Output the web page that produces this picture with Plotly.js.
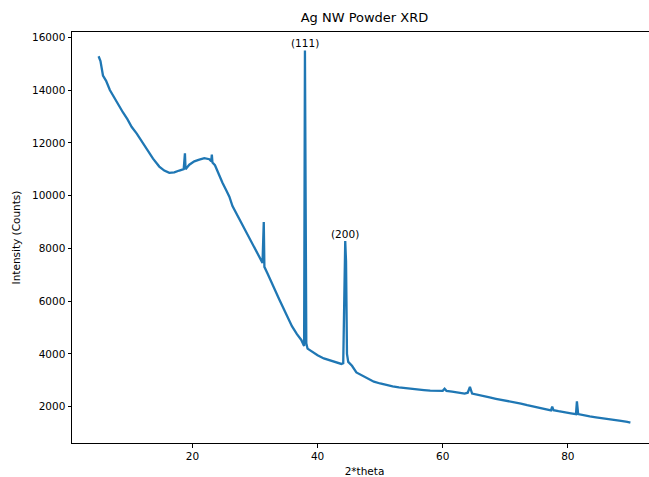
<!DOCTYPE html>
<html>
<head>
<meta charset="utf-8">
<script src="https://cdn.plot.ly/plotly-3.0.1.min.js"></script>
<style>
html, body { margin: 0; padding: 0; overflow: hidden; background: #fff; }
#chart { width: 659px; height: 477px; }
</style>
</head>
<body>
<div id="chart"></div>
<script>
// 2*theta positions (degrees)
const twoTheta = [
  5.0, 5.3, 5.7, 6.2, 6.8, 7.5, 8.2, 8.9, 9.6, 10.3, 11.1, 11.9, 12.8, 13.7, 14.7,
  15.5, 16.3, 17.1, 17.9, 18.6, 18.8, 18.9, 19.5, 20.3, 21.1, 21.9, 22.7, 23.0, 23.1,
  23.2, 23.6, 24.2, 24.8, 25.4, 25.9, 26.4, 27.5, 28.6, 29.6, 30.5, 31.2, 31.4, 31.5,
  32.0, 32.9, 33.9, 34.9, 35.9, 36.7, 37.4, 37.75, 37.85, 37.98, 38.1, 38.2, 38.4,
  38.7, 39.3, 40.0, 41.0, 42.0, 43.0, 43.8, 44.1, 44.3, 44.42, 44.55, 44.7, 44.9,
  45.5, 46.2, 47.0, 48.0, 49.0, 50.0, 51.0, 52.0, 53.0, 54.0, 55.0, 56.0, 57.0, 58.0,
  59.0, 60.0, 60.3, 60.6, 61.5, 62.5, 63.5, 64.0, 64.35, 64.7, 65.5, 66.5, 67.5, 68.5,
  69.5, 70.5, 71.5, 72.5, 73.5, 74.5, 75.5, 76.5, 77.3, 77.5, 77.7, 78.5, 79.5, 80.5,
  81.3, 81.45, 81.65, 82.5, 83.5, 84.5, 85.5, 86.5, 87.5, 88.5, 89.5, 90.0
];
// Intensity (counts)
const intensity = [
  15280, 15100, 14550, 14350, 14000, 13700, 13450, 13150, 12900, 12600, 12350, 12050, 11740, 11400, 11100,
  10950, 10860, 10880, 10950, 11000, 11600, 11000, 11170, 11300, 11360, 11420, 11380, 11300, 11550,
  11250, 11150, 10800, 10490, 10200, 9960, 9600, 9100, 8600, 8150, 7750, 7450, 9000, 7300,
  7050, 6550, 6050, 5550, 5050, 4750, 4530, 4350, 4300, 15500, 11050, 4400, 4200,
  4150, 4050, 3950, 3830, 3750, 3680, 3620, 3650, 7000, 8280, 7500, 4000, 3700,
  3550, 3300, 3200, 3050, 2950, 2880, 2820, 2770, 2730, 2700, 2680, 2650, 2630, 2610,
  2600, 2600, 2680, 2600, 2570, 2540, 2500, 2530, 2750, 2500, 2450, 2400, 2350, 2300,
  2260, 2220, 2170, 2120, 2060, 2000, 1950, 1900, 1860, 2000, 1870, 1830, 1780, 1750,
  1720, 2200, 1720, 1670, 1630, 1600, 1560, 1530, 1490, 1460, 1430, 1400
];
// Tick labels
const xTicks = [20, 40, 60, 80];
const yTicks = [2000, 4000, 6000, 8000, 10000, 12000, 14000, 16000];
// Peak labels
const peakLabels = ["(111)", "(200)"];
const peakX = [37.98, 44.42];
const peakY = [15500, 8280];

const font = "DejaVu Sans, sans-serif";

const trace = {
  x: twoTheta,
  y: intensity,
  type: "scatter",
  mode: "lines",
  line: { color: "#1f77b4", width: 2.3 },
  hoverinfo: "skip"
};

const annotations = peakLabels.map((t, i) => ({
  x: peakX[i], y: peakY[i], xref: "x", yref: "y",
  text: t, showarrow: false, xanchor: "center", yanchor: "bottom",
  yshift: -1,
  font: { family: font, size: 10.5, color: "#000" }
}));

const axisCommon = {
  showgrid: false, zeroline: false, showline: true, mirror: true,
  linecolor: "#000", linewidth: 1, ticks: "outside", ticklen: 3.5,
  tickwidth: 1, tickcolor: "#000", tickformat: "d",
  tickfont: { family: font, size: 10.5, color: "#000" }
};

const layout = {
  width: 659, height: 477,
  margin: { l: 72, r: 2, t: 32, b: 34, pad: 0 },
  paper_bgcolor: "#fff", plot_bgcolor: "#fff",
  showlegend: false,
  title: { text: "Ag NW Powder XRD", font: { family: font, size: 13, color: "#000" },
           x: 0.5, xref: "paper", xanchor: "center", y: 1, yref: "container", yanchor: "top", pad: { t: 13 } },
  xaxis: Object.assign({}, axisCommon, {
    range: [0.75, 94.25], tickvals: xTicks,
    title: { text: "2*theta", font: { family: font, size: 10.5, color: "#000" }, standoff: 6 }
  }),
  yaxis: Object.assign({}, axisCommon, {
    range: [625, 16200], tickvals: yTicks,
    title: { text: "Intensity (Counts)", font: { family: font, size: 10.5, color: "#000" }, standoff: 9 }
  }),
  annotations: annotations
};

Plotly.newPlot("chart", [trace], layout, { staticPlot: true, displayModeBar: false });
</script>
</body>
</html>
